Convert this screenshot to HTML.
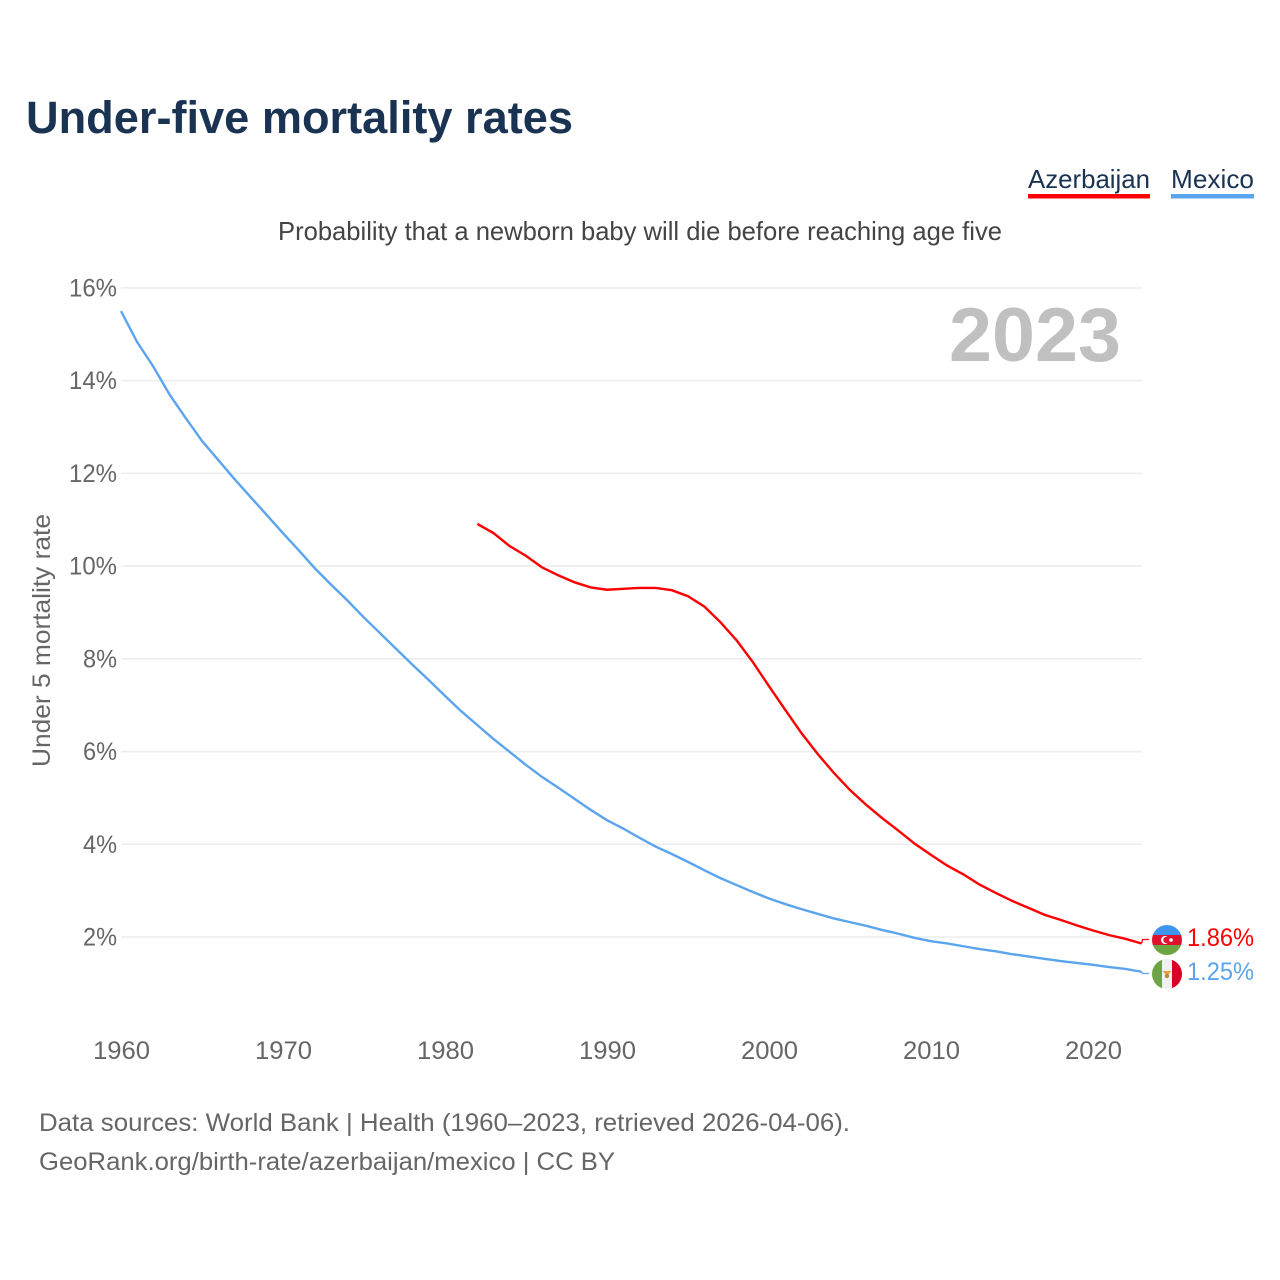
<!DOCTYPE html>
<html lang="en">
<head>
<meta charset="utf-8">
<title>Under-five mortality rates</title>
<style>
html,body{margin:0;padding:0;background:#fff;}
svg{display:block;font-family:"Liberation Sans",sans-serif;}
</style>
</head>
<body>
<svg id="chart" width="1280" height="1280" viewBox="0 0 1280 1280" xmlns="http://www.w3.org/2000/svg">
  <rect width="1280" height="1280" fill="#fff"/>
  <text x="26" y="133" font-size="45" font-weight="700" fill="#1a3353" textLength="547" lengthAdjust="spacingAndGlyphs">Under-five mortality rates</text>

  <g>
    <text x="1028" y="188" font-size="26" fill="#1a3353" textLength="122" lengthAdjust="spacingAndGlyphs">Azerbaijan</text>
    <rect x="1028" y="194" width="122" height="4.5" fill="#ff0000"/>
  </g>
  <g>
    <text x="1171" y="188" font-size="26" fill="#1a3353" textLength="83" lengthAdjust="spacingAndGlyphs">Mexico</text>
    <rect x="1171" y="194" width="83" height="4.5" fill="#5ba4ee"/>
  </g>

  <text x="278" y="240" font-size="26" fill="#444" textLength="724" lengthAdjust="spacingAndGlyphs">Probability that a newborn baby will die before reaching age five</text>

  <g id="grid"></g>
  <g id="yticks"></g>
  <g id="xticks"></g>

  <text transform="translate(50,767) rotate(-90)" x="0" y="0" font-size="25" fill="#666" textLength="253" lengthAdjust="spacingAndGlyphs">Under 5 mortality rate</text>
  <text x="949" y="361" font-size="76" font-weight="700" fill="#c0c0c0" textLength="172" lengthAdjust="spacingAndGlyphs">2023</text>

  <g id="series"></g>

  <defs>
    <clipPath id="clip-az"><circle cx="1167" cy="940" r="15"/></clipPath>
    <clipPath id="clip-mx"><circle cx="1167" cy="974" r="15"/></clipPath>
  </defs>
  <g clip-path="url(#clip-az)">
    <rect x="1152" y="925" width="30" height="10" fill="#3f95ee"/>
    <rect x="1152" y="935" width="30" height="10" fill="#e0112d"/>
    <rect x="1152" y="945" width="30" height="10" fill="#6da544"/>
    <circle cx="1165" cy="940" r="4" fill="#fff"/>
    <circle cx="1166.5" cy="940" r="3.2" fill="#e0112d"/>
    <circle cx="1171" cy="940" r="1.8" fill="#fff"/>
  </g>
  <g clip-path="url(#clip-mx)">
    <rect x="1152" y="959" width="10" height="30" fill="#6da544"/>
    <rect x="1162" y="959" width="10" height="30" fill="#f0f0f0"/>
    <rect x="1172" y="959" width="10" height="30" fill="#d80027"/>
    <path d="M1162.5 971 L1171.5 971 L1167 976 Z" fill="#e8a13a"/>
    <circle cx="1167" cy="976" r="2.2" fill="#c08a2e"/>
  </g>
  <text x="1187" y="946" font-size="25" fill="#ff0000" textLength="67" lengthAdjust="spacingAndGlyphs">1.86%</text>
  <text x="1187" y="980" font-size="25" fill="#5ba4ee" textLength="67" lengthAdjust="spacingAndGlyphs">1.25%</text>

  <text x="39" y="1131" font-size="25" fill="#666" textLength="811" lengthAdjust="spacingAndGlyphs">Data sources: World Bank | Health (1960–2023, retrieved 2026-04-06).</text>
  <text x="39" y="1170" font-size="25" fill="#666" textLength="576" lengthAdjust="spacingAndGlyphs">GeoRank.org/birth-rate/azerbaijan/mexico | CC BY</text>
</svg>
<script>
const yTickValues = [2, 4, 6, 8, 10, 12, 14, 16];
const xTickYears = [1960, 1970, 1980, 1990, 2000, 2010, 2020];
const mexicoStartYear = 1960;
const mexicoValues = [15.5, 14.83, 14.3, 13.7, 13.19, 12.7, 12.29, 11.88, 11.49, 11.1, 10.71, 10.33, 9.94, 9.59, 9.25, 8.89, 8.55, 8.21, 7.87, 7.54, 7.2, 6.87, 6.57, 6.27, 5.99, 5.71, 5.45, 5.22, 4.98, 4.74, 4.52, 4.34, 4.14, 3.95, 3.79, 3.62, 3.44, 3.27, 3.12, 2.97, 2.83, 2.71, 2.6, 2.5, 2.4, 2.32, 2.24, 2.15, 2.07, 1.98, 1.91, 1.86, 1.8, 1.74, 1.69, 1.63, 1.58, 1.53, 1.48, 1.44, 1.4, 1.35, 1.31, 1.25];
const azerbaijanStartYear = 1982;
const azerbaijanValues = [10.91, 10.71, 10.43, 10.22, 9.97, 9.8, 9.65, 9.54, 9.49, 9.51, 9.53, 9.53, 9.48, 9.35, 9.13, 8.79, 8.4, 7.93, 7.41, 6.9, 6.4, 5.95, 5.54, 5.17, 4.85, 4.56, 4.29, 4.01, 3.77, 3.54, 3.35, 3.13, 2.95, 2.78, 2.63, 2.48, 2.37, 2.25, 2.14, 2.04, 1.96, 1.86];

const NS = 'http://www.w3.org/2000/svg';
function xScale(year) { return 121 + (year - 1960) * 16.2; }
function yScale(value) { return 1029.7 - value * 46.36; }

const gridGroup = document.getElementById('grid');
const yTickGroup = document.getElementById('yticks');
const xTickGroup = document.getElementById('xticks');
const seriesGroup = document.getElementById('series');

yTickValues.forEach(function (v) {
  const line = document.createElementNS(NS, 'line');
  
  
  line.setAttribute('x1', 121);
  line.setAttribute('x2', 1142);
  line.setAttribute('y1', yScale(v));
  line.setAttribute('y2', yScale(v));
  line.setAttribute('stroke', '#eeeeee');
  line.setAttribute('stroke-width', '1.6');
  gridGroup.appendChild(line);

  const label = document.createElementNS(NS, 'text');
  
  
  const str = v + '%';
  const w = str.length === 3 ? 48 : 34;
  label.setAttribute('x', 117 - w);
  label.setAttribute('y', yScale(v) + 8.5);
  label.setAttribute('font-size', '25');
  label.setAttribute('fill', '#666');
  label.setAttribute('textLength', w);
  label.setAttribute('lengthAdjust', 'spacingAndGlyphs');
  label.textContent = str;
  yTickGroup.appendChild(label);
});

xTickYears.forEach(function (yr) {
  const label = document.createElementNS(NS, 'text');
  
  
  label.setAttribute('x', xScale(yr) - 28);
  label.setAttribute('y', 1059);
  label.setAttribute('font-size', '25');
  label.setAttribute('fill', '#666');
  label.setAttribute('textLength', 57);
  label.setAttribute('lengthAdjust', 'spacingAndGlyphs');
  label.textContent = String(yr);
  xTickGroup.appendChild(label);
});

function linePoints(startYear, values) {
  return values.map(function (v, i) {
    return xScale(startYear + i).toFixed(2) + ',' + yScale(v).toFixed(2);
  });
}

const mexicoPts = linePoints(mexicoStartYear, mexicoValues);
const mexicoLine = document.createElementNS(NS, 'polyline');


mexicoLine.setAttribute('points', mexicoPts.join(' '));
mexicoLine.setAttribute('fill', 'none');
mexicoLine.setAttribute('stroke', '#5ba4ee');
mexicoLine.setAttribute('stroke-width', '2.4');
seriesGroup.appendChild(mexicoLine);

const azerbaijanPts = linePoints(azerbaijanStartYear, azerbaijanValues);
const azerbaijanLine = document.createElementNS(NS, 'polyline');


azerbaijanLine.setAttribute('points', azerbaijanPts.join(' '));
azerbaijanLine.setAttribute('fill', 'none');
azerbaijanLine.setAttribute('stroke', '#ff0000');
azerbaijanLine.setAttribute('stroke-width', '2.4');
seriesGroup.appendChild(azerbaijanLine);

const azConnector = document.createElementNS(NS, 'polyline');


azConnector.setAttribute('points', azerbaijanPts[azerbaijanPts.length - 1] + ' 1142.5,939.5 1149,939.5');
azConnector.setAttribute('fill', 'none');
azConnector.setAttribute('stroke', '#ff0000');
azConnector.setAttribute('stroke-width', '1.3');
seriesGroup.appendChild(azConnector);

const mxConnector = document.createElementNS(NS, 'polyline');


mxConnector.setAttribute('points', mexicoPts[mexicoPts.length - 1] + ' 1142.5,973.5 1149,973.5');
mxConnector.setAttribute('fill', 'none');
mxConnector.setAttribute('stroke', '#5ba4ee');
mxConnector.setAttribute('stroke-width', '1.3');
seriesGroup.appendChild(mxConnector);
</script>
</body>
</html>
